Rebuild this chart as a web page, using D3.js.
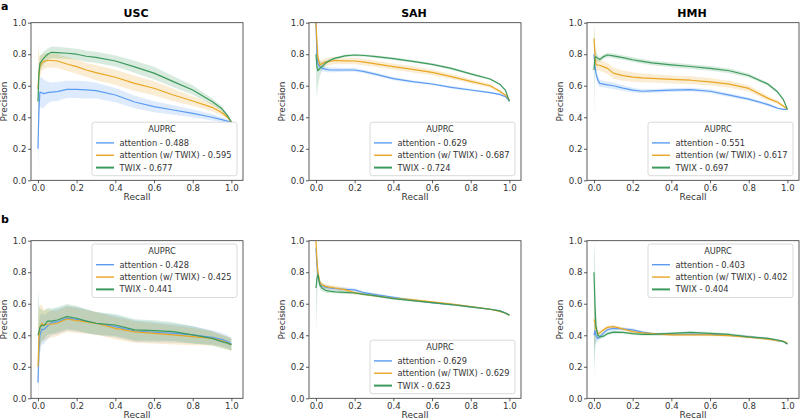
<!DOCTYPE html>
<html><head><meta charset="utf-8">
<script src="https://cdn.jsdelivr.net/npm/d3@7"></script>
<style>body{margin:0;background:#fff} text{font-family:"DejaVu Sans",sans-serif;fill:#333}</style>
</head><body><svg id="c" width="800" height="420"></svg>
<script>
// ---------- data ----------
const recall = [0, 0.005, 0.01, 0.02, 0.03, 0.05, 0.07, 0.1, 0.15, 0.2, 0.25, 0.3, 0.4, 0.5, 0.6, 0.7, 0.8, 0.9, 0.95, 0.98, 1.0];
const tickValues = [0, 0.2, 0.4, 0.6, 0.8, 1.0];
const seriesNames = ["attention", "attention (w/ TWIX)", "TWIX"];
const datasets = ["USC", "SAH", "HMH"];
const rowLetters = ["a", "b"];

// row a
const usc_a_attention      = [0.20,0.45,0.56,0.555,0.55,0.556,0.56,0.563,0.577,0.577,0.574,0.569,0.541,0.497,0.467,0.446,0.425,0.40,0.385,0.375,0.37];
const usc_a_attention_twix = [0.58,0.68,0.72,0.745,0.755,0.76,0.76,0.757,0.738,0.721,0.70,0.683,0.654,0.615,0.584,0.541,0.503,0.463,0.43,0.40,0.37];
const usc_a_twix           = [0.50,0.68,0.74,0.76,0.775,0.80,0.812,0.81,0.806,0.80,0.787,0.78,0.757,0.72,0.68,0.626,0.573,0.50,0.455,0.41,0.37];
const usc_a_attention_band      = [0.35,0.12,0.09,0.10,0.09,0.07,0.06,0.06,0.055,0.055,0.055,0.05,0.045,0.04,0.035,0.03,0.025,0.02,0.015,0.01,0.008];
const usc_a_attention_twix_band = [0.30,0.12,0.07,0.05,0.05,0.045,0.045,0.045,0.045,0.045,0.045,0.048,0.048,0.048,0.045,0.04,0.03,0.025,0.02,0.012,0.008];
const usc_a_twix_band           = [0.10,0.06,0.05,0.045,0.04,0.037,0.037,0.037,0.035,0.035,0.035,0.035,0.035,0.038,0.04,0.035,0.03,0.02,0.015,0.01,0.008];

const sah_a_attention      = [1.0,0.80,0.74,0.72,0.712,0.705,0.70,0.70,0.70,0.70,0.69,0.675,0.645,0.626,0.611,0.59,0.573,0.556,0.545,0.53,0.505];
const sah_a_attention_twix = [1.0,0.88,0.78,0.732,0.74,0.75,0.755,0.76,0.758,0.757,0.75,0.74,0.721,0.704,0.685,0.658,0.628,0.60,0.565,0.54,0.51];
const sah_a_twix           = [0.80,0.72,0.695,0.71,0.72,0.745,0.76,0.775,0.79,0.795,0.792,0.786,0.772,0.755,0.736,0.71,0.675,0.643,0.61,0.57,0.50];
const sah_a_attention_band      = [0.03,0.03,0.025,0.02,0.02,0.018,0.015,0.015,0.012,0.012,0.01,0.01,0.01,0.008,0.008,0.008,0.008,0.006,0.006,0.005,0.004];
const sah_a_attention_twix_band = [0.02,0.03,0.03,0.025,0.025,0.025,0.025,0.022,0.02,0.02,0.02,0.02,0.02,0.02,0.018,0.016,0.014,0.012,0.01,0.008,0.005];
const sah_a_twix_band           = [0.15,0.20,0.10,0.05,0.03,0.015,0.01,0.008,0.008,0.008,0.008,0.008,0.008,0.008,0.008,0.008,0.008,0.006,0.006,0.005,0.004];

const hmh_a_attention      = [0.80,0.73,0.68,0.636,0.615,0.61,0.605,0.60,0.585,0.572,0.565,0.567,0.572,0.575,0.565,0.54,0.515,0.48,0.457,0.45,0.45];
const hmh_a_attention_twix = [0.90,0.80,0.736,0.73,0.73,0.72,0.71,0.68,0.664,0.655,0.65,0.647,0.64,0.635,0.625,0.61,0.583,0.52,0.495,0.47,0.452];
const hmh_a_twix           = [0.70,0.78,0.784,0.775,0.767,0.785,0.795,0.79,0.778,0.765,0.755,0.745,0.733,0.722,0.71,0.695,0.665,0.61,0.56,0.51,0.45];
const hmh_a_attention_band      = [0.05,0.05,0.04,0.03,0.025,0.02,0.02,0.02,0.018,0.015,0.012,0.012,0.012,0.012,0.012,0.012,0.01,0.01,0.008,0.006,0.005];
const hmh_a_attention_twix_band = [0.12,0.06,0.04,0.035,0.035,0.035,0.035,0.035,0.032,0.03,0.028,0.026,0.025,0.025,0.024,0.022,0.02,0.015,0.01,0.008,0.006];
const hmh_a_twix_band           = [0.30,0.10,0.04,0.02,0.015,0.015,0.015,0.015,0.015,0.015,0.015,0.015,0.015,0.015,0.015,0.015,0.012,0.01,0.008,0.006,0.005];

// row b
const usc_b_attention      = [0.10,0.30,0.40,0.44,0.435,0.46,0.48,0.486,0.508,0.501,0.49,0.476,0.455,0.427,0.419,0.412,0.403,0.387,0.374,0.36,0.345];
const usc_b_attention_twix = [0.20,0.38,0.45,0.475,0.465,0.47,0.47,0.476,0.503,0.493,0.485,0.476,0.444,0.421,0.412,0.402,0.391,0.38,0.365,0.35,0.34];
const usc_b_twix           = [0.40,0.42,0.45,0.465,0.46,0.49,0.49,0.497,0.518,0.508,0.49,0.476,0.465,0.434,0.43,0.423,0.402,0.38,0.36,0.35,0.34];
const usc_b_attention_band      = [0.30,0.15,0.12,0.10,0.09,0.085,0.08,0.08,0.08,0.078,0.075,0.072,0.07,0.068,0.065,0.06,0.055,0.045,0.042,0.04,0.04];
const usc_b_attention_twix_band = [0.30,0.18,0.14,0.12,0.10,0.09,0.085,0.08,0.08,0.078,0.075,0.072,0.07,0.068,0.065,0.06,0.055,0.045,0.042,0.04,0.04];
const usc_b_twix_band           = [0.30,0.18,0.12,0.10,0.09,0.085,0.08,0.08,0.08,0.078,0.075,0.072,0.07,0.068,0.065,0.06,0.055,0.045,0.042,0.04,0.04];

const sah_b_attention      = [0.95,0.85,0.78,0.73,0.715,0.705,0.70,0.695,0.692,0.688,0.67,0.66,0.64,0.622,0.607,0.595,0.58,0.565,0.555,0.542,0.528];
const sah_b_attention_twix = [1.0,0.88,0.80,0.735,0.72,0.71,0.705,0.70,0.69,0.67,0.66,0.652,0.635,0.625,0.612,0.598,0.582,0.565,0.552,0.54,0.528];
const sah_b_twix           = [0.70,0.76,0.785,0.72,0.70,0.685,0.68,0.675,0.672,0.668,0.66,0.652,0.633,0.62,0.607,0.595,0.58,0.565,0.555,0.54,0.528];
const sah_b_attention_band      = [0.05,0.04,0.03,0.02,0.015,0.015,0.012,0.012,0.012,0.01,0.008,0.008,0.008,0.008,0.006,0.006,0.006,0.005,0.005,0.004,0.004];
const sah_b_attention_twix_band = [0.05,0.04,0.03,0.02,0.018,0.015,0.015,0.015,0.012,0.01,0.008,0.008,0.008,0.008,0.006,0.006,0.006,0.005,0.005,0.004,0.004];
const sah_b_twix_band           = [0.30,0.15,0.05,0.03,0.02,0.015,0.012,0.01,0.01,0.008,0.008,0.008,0.008,0.008,0.006,0.006,0.006,0.005,0.005,0.004,0.004];

const hmh_b_attention      = [0.40,0.43,0.40,0.38,0.39,0.415,0.435,0.444,0.44,0.434,0.42,0.41,0.405,0.406,0.405,0.40,0.39,0.378,0.365,0.36,0.345];
const hmh_b_attention_twix = [0.50,0.48,0.44,0.41,0.415,0.435,0.45,0.455,0.44,0.423,0.415,0.41,0.402,0.402,0.402,0.398,0.388,0.375,0.365,0.362,0.35];
const hmh_b_twix           = [0.80,0.60,0.46,0.40,0.39,0.395,0.41,0.42,0.418,0.41,0.405,0.405,0.412,0.418,0.412,0.405,0.39,0.38,0.37,0.36,0.345];
const hmh_b_attention_band      = [0.30,0.10,0.05,0.02,0.015,0.012,0.012,0.012,0.01,0.01,0.008,0.008,0.008,0.008,0.008,0.008,0.008,0.006,0.006,0.005,0.005];
const hmh_b_attention_twix_band = [0.25,0.10,0.05,0.02,0.015,0.012,0.012,0.012,0.01,0.01,0.008,0.008,0.008,0.008,0.008,0.008,0.008,0.006,0.006,0.005,0.005];
const hmh_b_twix_band           = [0.60,0.30,0.10,0.02,0.015,0.012,0.01,0.01,0.008,0.008,0.008,0.008,0.008,0.008,0.008,0.008,0.008,0.006,0.006,0.005,0.005];

const auprc_usc_a = ["0.488", "0.595", "0.677"];
const auprc_sah_a = ["0.629", "0.687", "0.724"];
const auprc_hmh_a = ["0.551", "0.617", "0.697"];
const auprc_usc_b = ["0.428", "0.425", "0.441"];
const auprc_sah_b = ["0.629", "0.629", "0.623"];
const auprc_hmh_b = ["0.403", "0.402", "0.404"];

// ---------- layout / style ----------
const colors = ["#5b9cf2", "#e9a623", "#3b9a5c"];
const frameLefts = [31, 309, 587];
const frameTops = [22.7, 240.7];
const FW = 212, FH = 157.6;

const panels = [
  {row:0,col:0,means:[usc_a_attention,usc_a_attention_twix,usc_a_twix],bands:[usc_a_attention_band,usc_a_attention_twix_band,usc_a_twix_band],auprc:auprc_usc_a,legend:"lower"},
  {row:0,col:1,means:[sah_a_attention,sah_a_attention_twix,sah_a_twix],bands:[sah_a_attention_band,sah_a_attention_twix_band,sah_a_twix_band],auprc:auprc_sah_a,legend:"lower"},
  {row:0,col:2,means:[hmh_a_attention,hmh_a_attention_twix,hmh_a_twix],bands:[hmh_a_attention_band,hmh_a_attention_twix_band,hmh_a_twix_band],auprc:auprc_hmh_a,legend:"lower"},
  {row:1,col:0,means:[usc_b_attention,usc_b_attention_twix,usc_b_twix],bands:[usc_b_attention_band,usc_b_attention_twix_band,usc_b_twix_band],auprc:auprc_usc_b,legend:"upper"},
  {row:1,col:1,means:[sah_b_attention,sah_b_attention_twix,sah_b_twix],bands:[sah_b_attention_band,sah_b_attention_twix_band,sah_b_twix_band],auprc:auprc_sah_b,legend:"lower"},
  {row:1,col:2,means:[hmh_b_attention,hmh_b_attention_twix,hmh_b_twix],bands:[hmh_b_attention_band,hmh_b_attention_twix_band,hmh_b_twix_band],auprc:auprc_hmh_b,legend:"upper"}
];

const svg = d3.select("#c");
const defs = svg.append("defs");

// row letters
rowLetters.forEach((l, i) => {
  svg.append("text").attr("x", 1).attr("y", i === 0 ? 10 : 223)
    .attr("font-size", 11).attr("font-weight", "bold").style("fill", "#000").text(l);
});

panels.forEach((p, pi) => {
  const L = frameLefts[p.col], T = frameTops[p.row];
  const x = d3.scaleLinear().domain([-0.036, 1.06]).range([L, L + FW]);
  const y = d3.scaleLinear().domain([0, 1]).range([T + FH, T]);
  const g = svg.append("g");

  defs.append("clipPath").attr("id", "clip" + pi)
    .append("rect").attr("x", L).attr("y", T).attr("width", FW).attr("height", FH);

  const plot = g.append("g").attr("clip-path", `url(#clip${pi})`);
  const area = d3.area().x((d, i) => x(recall[i]))
    .y0((d, i) => y(Math.max(0, d.m - d.b))).y1((d, i) => y(Math.min(1, d.m + d.b)));
  const line = d3.line().x((d, i) => x(recall[i])).y(d => y(d));

  p.means.forEach((m, si) => {
    const pts = m.map((v, i) => ({m: v, b: p.bands[si][i]}));
    plot.append("path").attr("d", area(pts)).attr("fill", colors[si]).attr("fill-opacity", 0.2);
  });
  p.means.forEach((m, si) => {
    plot.append("path").attr("d", line(m)).attr("fill", "none")
      .attr("stroke", colors[si]).attr("stroke-width", 1.2).attr("stroke-linejoin", "round");
  });

  // axes
  const fmt = d3.format(".1f");
  const xa = g.append("g").attr("transform", `translate(0,${T + FH})`)
    .call(d3.axisBottom(x).tickValues(tickValues).tickFormat(fmt).tickSize(3).tickPadding(1.5));
  const ya = g.append("g").attr("transform", `translate(${L},0)`)
    .call(d3.axisLeft(y).tickValues(tickValues).tickFormat(fmt).tickSize(3).tickPadding(1.5));
  [xa, ya].forEach(a => {
    a.select(".domain").remove();
    a.selectAll("line").attr("stroke", "#333").attr("stroke-width", 0.8);
    a.selectAll("text").attr("font-size", 8.6).attr("font-family", "DejaVu Sans").style("fill", "#333");
  });

  g.append("rect").attr("x", L).attr("y", T).attr("width", FW).attr("height", FH)
    .attr("fill", "none").attr("stroke", "#333").attr("stroke-width", 0.8);

  g.append("text").attr("x", L + FW / 2).attr("y", T + FH + 19.5).attr("text-anchor", "middle")
    .attr("font-size", 9).text("Recall");
  g.append("text").attr("transform", `translate(${L - 24},${T + FH / 2}) rotate(-90)`)
    .attr("text-anchor", "middle").attr("font-size", 9).text("Precision");

  if (p.row === 0) {
    g.append("text").attr("x", L + FW / 2 - 1).attr("y", 17).attr("text-anchor", "middle")
      .attr("font-size", 11).attr("font-weight", "bold").style("fill", "#000").text(datasets[p.col]);
  }

  // legend
  const LW = 145, LH = 53.5;
  const lx = L + FW - 6 - LW;
  const ly = p.legend === "lower" ? T + FH - 4.6 - LH : T + 3.3;
  const lg = g.append("g");
  lg.append("rect").attr("x", lx).attr("y", ly).attr("width", LW).attr("height", LH).attr("rx", 2.5)
    .attr("fill", "#fff").attr("fill-opacity", 0.85).attr("stroke", "#cfcfcf").attr("stroke-width", 0.8);
  lg.append("text").attr("x", lx + 70).attr("y", ly + 9.7).attr("text-anchor", "middle")
    .attr("font-size", 8.25).text("AUPRC");
  seriesNames.forEach((s, si) => {
    const cy = ly + 20.7 + si * 12.35;
    lg.append("line").attr("x1", lx + 4).attr("x2", lx + 22).attr("y1", cy).attr("y2", cy)
      .attr("stroke", colors[si]).attr("stroke-width", si === 2 ? 2 : 1.4);
    lg.append("text").attr("x", lx + 27.5).attr("y", cy + 3).attr("font-size", 8.25)
      .text(`${s} - ${p.auprc[si]}`);
  });
});
</script></body></html>
